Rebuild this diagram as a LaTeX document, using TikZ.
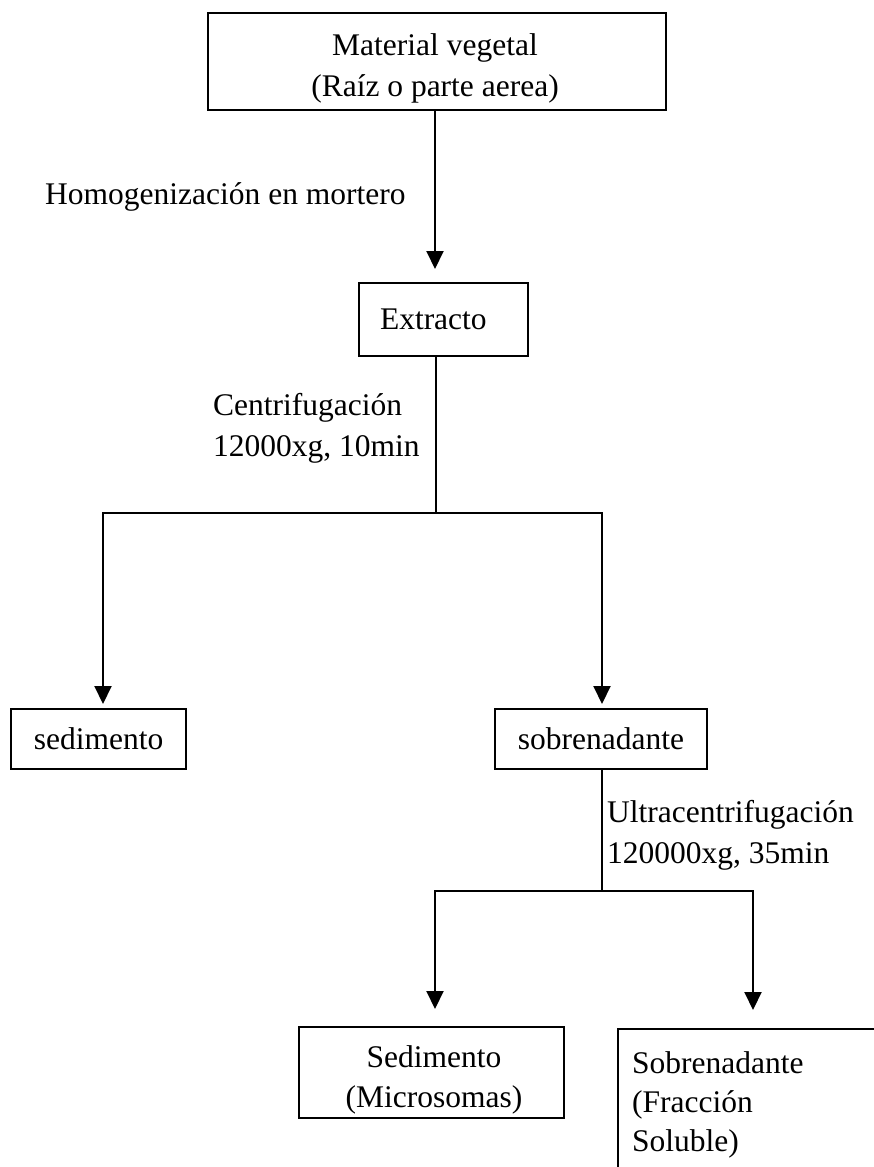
\documentclass[tikz,border=0pt]{standalone}
\usepackage{fontspec}
\setmainfont{Liberation Serif}
\usetikzlibrary{arrows.meta}
\begin{document}
\begin{tikzpicture}[x=1pt,y=-1pt,
  every node/.style={font=\fontsize{31.5}{41}\selectfont, inner sep=0pt},
  box/.style={draw, line width=2pt, align=center},
  txt/.style={align=center},
  link/.style={line width=2pt},
  arr/.style={link, -{Triangle[width=17pt,length=18pt]}},
  lbl/.style={anchor=west, align=left}]
\useasboundingbox (0,0) rectangle (874,1167);
\clip (0,0) rectangle (874,1167);

% process steps
\node[box, minimum width=458pt, minimum height=97pt] (mat) at (437,61.5) {};
\node[txt] (matt) at (435,68.5) {Material vegetal\\(Raíz o parte aerea)};
\node[box, minimum width=169pt, minimum height=73pt, text width=127pt,
  inner xsep=21pt, align=left] (ext) at (443.5,319.5) {Extracto};
\node[box, minimum width=175pt, minimum height=60pt] (sed1) at (98.5,739) {\raisebox{-3pt}{sedimento}};
\node[box, minimum width=212pt, minimum height=60pt] (sob1) at (601,739) {\raisebox{-4pt}{sobrenadante}};
\node[box, minimum width=265pt, minimum height=91pt] (sed2) at (431.5,1072.5) {};
\node[txt, font=\fontsize{31.5}{40}\selectfont] (sed2t) at (434,1080) {Sedimento\\(Microsomas)};
\node[draw, line width=2pt, anchor=north west, minimum width=300pt,
  minimum height=200pt] (sob2) at (617,1028) {};
\node[anchor=north west, align=left, font=\fontsize{31.5}{39}\selectfont] (sob2t) at (632,1051)
  {Sobrenadante\\(Fracción\\Soluble)};

% operation labels
\node[lbl] (hom) at (45,197) {Homogenización en mortero};
\node[lbl] (cen) at (213,428) {Centrifugación\\12000xg, 10min};
\node[lbl] (ult) at (607,835) {Ultracentrifugación\\120000xg, 35min};

% connectors
\coordinate (a0) at (435,0);
\draw[arr, shorten >=13pt] (mat.south -| a0) -- (ext.north -| a0);

\coordinate (j1) at (436,513);
\coordinate (l1) at (103,513);
\coordinate (r1) at (602,513);
\draw[link] (ext.south -| j1) -- (j1);
\draw[link, line cap=rect] (l1) -- (r1);
\draw[arr, shorten >=4pt] (l1) -- (l1 |- sed1.north);
\draw[arr, shorten >=4pt] (r1) -- (r1 |- sob1.north);

\coordinate (j2) at (602,891);
\coordinate (l2) at (435,891);
\coordinate (r2) at (753,891);
\draw[link] (sob1.south -| j2) -- (j2);
\draw[link, line cap=rect] (l2) -- (r2);
\draw[arr, shorten >=17pt] (l2) -- (l2 |- sed2.north);
\draw[arr, shorten >=18pt] (r2) -- (r2 |- sob2.north);
\end{tikzpicture}
\end{document}
